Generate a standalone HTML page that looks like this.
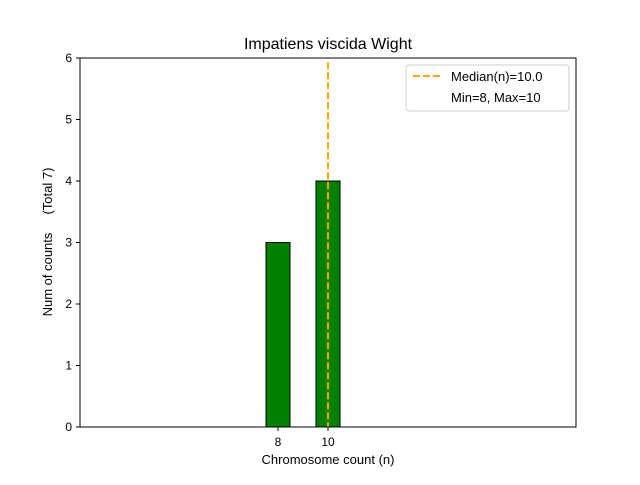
<!DOCTYPE html>
<html><head><meta charset="utf-8"><style>
body{margin:0;background:#fff}
svg{font-family:"Liberation Sans","DejaVu Sans",sans-serif}
</style></head><body>
<svg id="c" width="640" height="480" xmlns="http://www.w3.org/2000/svg">
<rect width="640" height="480" fill="#fff"/>
<text x="328" y="49" font-size="16" text-anchor="middle">Impatiens viscida Wight</text>
<g id="plot"></g>
<rect x="80" y="58" width="496" height="369" fill="none" stroke="#000" stroke-width="1"/>
<text x="328" y="464" font-size="13" text-anchor="middle">Chromosome count (n)</text>
<text transform="translate(52,242) rotate(-90)" font-size="13" text-anchor="middle">Num of counts &#160;&#160;&#160;&#160;(Total 7)</text>
<g>
<rect x="406" y="65" width="163" height="46" rx="3" fill="#fff" stroke="#ccc"/>
<line x1="413" y1="76" x2="441" y2="76" stroke="#ffa500" stroke-width="2" stroke-dasharray="7,3"/>
<text x="451" y="81" font-size="13">Median(n)=10.0</text>
<text x="451" y="102" font-size="13">Min=8, Max=10</text>
</g>
</svg>
<script>
const categories=[8,10];
const counts=[3,4];
const yTicks=[0,1,2,3,4,5,6];
const median=10.0;
const xMin=0.08,xMax=19.92,yMin=0,yMax=6;
const L=80,R=576,T=58,B=427;
const xs=v=>L+(v-xMin)/(xMax-xMin)*(R-L);
const ys=v=>B-(v-yMin)/(yMax-yMin)*(B-T);
const NS="http://www.w3.org/2000/svg";
const g=document.getElementById('plot');
function mk(t,a){const e=document.createElementNS(NS,t);for(const k in a)e.setAttribute(k,a[k]);g.appendChild(e);return e;}
const base=mk('line',{x1:xs(0.5),y1:B,x2:xs(13.5),y2:B,stroke:'#000','stroke-width':1});


categories.forEach((c,i)=>{
  const r=mk('rect',{x:xs(c-0.48),y:ys(counts[i]),width:xs(c+0.48)-xs(c-0.48),height:B-ys(counts[i]),fill:'#008000',stroke:'#000','stroke-width':1});
  
  
  const tk=mk('line',{x1:xs(c),y1:B,x2:xs(c),y2:B+4,stroke:'#000'});
  
  
  const t=mk('text',{x:xs(c),y:B+19,'font-size':12,'text-anchor':'middle'});
  t.textContent=c;
  
  
});
yTicks.forEach(v=>{
  const tk=mk('line',{x1:L-4,y1:ys(v),x2:L,y2:ys(v),stroke:'#000'});
  
  
  const t=mk('text',{x:L-8,y:ys(v)+4,'font-size':12,'text-anchor':'end'});
  t.textContent=v;
  
  
});
const m=mk('line',{x1:xs(median),y1:ys(5.93),x2:xs(median),y2:B,stroke:'#ffa500','stroke-width':2,'stroke-dasharray':'7,3'});


</script>
</body></html>
